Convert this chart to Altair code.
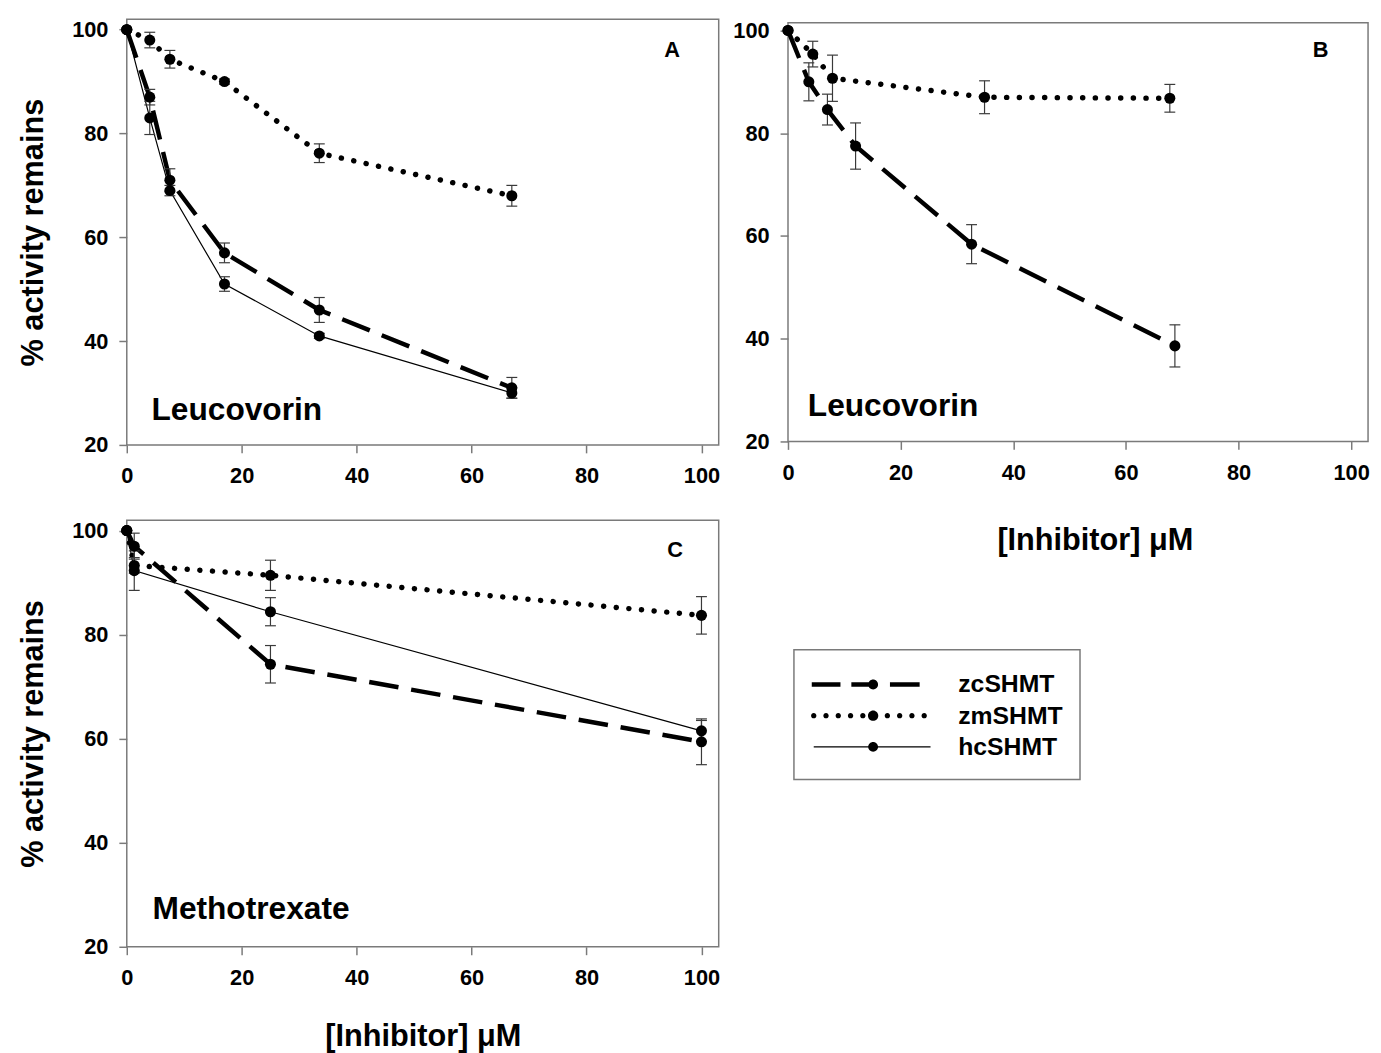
import altair as alt
import pandas as pd

series = ["zcSHMT", "zmSHMT", "hcSHMT"]

# Panel A (Leucovorin)
a_x = [0, 4, 7.5, 17, 33.5, 67]
a_zc = [100, 87, 71, 57, 46, 31]
a_zc_err = [0, 1.5, 2.2, 1.9, 2.4, 2.0]
a_zm = [100, 98, 94.3, 90, 76.2, 68]
a_zm_err = [0, 1.5, 1.7, 0.5, 1.8, 2.0]
a_hc = [100, 83, 69, 51, 41, 30]
a_hc_err = [0, 3.2, 1.0, 1.4, 0.5, 1.0]

# Panel B (Leucovorin)
b_zc_x = [0, 3.7, 7, 12, 32.6, 68.7]
b_zc = [100, 90, 84.6, 77.5, 58.4, 38.6]
b_zc_err = [0, 3.7, 3.0, 4.5, 3.8, 4.1]
b_zm_x = [0, 4.4, 7.9, 34.9, 67.8]
b_zm = [100, 95.4, 90.7, 87, 86.8]
b_zm_err = [0, 2.5, 4.5, 3.2, 2.7]

# Panel C (Methotrexate)
c_x = [0, 1.3, 25, 100]
c_zc = [100, 97, 74.3, 59.4]
c_zc_err = [0, 2.5, 3.6, 4.4]
c_zm = [100, 93.3, 91.4, 83.7]
c_zm_err = [0, 1.5, 2.9, 3.6]
c_hc = [100, 92.3, 84.4, 61.5]
c_hc_err = [0, 3.8, 2.7, 2.0]

x_ticks = [0, 20, 40, 60, 80, 100]
y_ticks = [20, 40, 60, 80, 100]
x_title = "[Inhibitor] μM"
y_title = "% activity remains"

FONT = "Liberation Sans"
FRAME = "#7a7a7a"
ERR = "#3a3a3a"

line_styles = {
    "zcSHMT": {"strokeWidth": 4.5, "strokeDash": [30, 13]},
    "zmSHMT": {"strokeWidth": 5.5, "strokeDash": [0.1, 12.7], "strokeCap": "round"},
    "hcSHMT": {"strokeWidth": 1.2},
}


def series_df(xs, ys, errs, name):
    df = pd.DataFrame({"x": xs, "y": ys, "err": errs})
    df["series"] = name
    df["lo"] = df["y"] - df["err"]
    df["hi"] = df["y"] + df["err"]
    return df


def text_layer(label, px, py, size, align):
    return alt.Chart(pd.DataFrame({"label": [label]})).mark_text(
        font=FONT, fontWeight="bold", fontSize=size, align=align,
        baseline="middle", color="black"
    ).encode(text="label:N", x=alt.value(px), y=alt.value(py))


def panel(dfs, width, height, ytop, show_xtitle, show_ytitle, xpad, xtitle_x,
          letter, letter_xy, drug, drug_xy):
    xscale = alt.Scale(domain=[0, 103], nice=False, zero=False)
    yscale = alt.Scale(domain=[20, ytop], nice=False, zero=False)
    xkw = dict(values=x_ticks, labelFlush=False, titlePadding=xpad)
    if show_xtitle:
        xkw["title"] = x_title
        if xtitle_x is not None:
            xkw["titleX"] = xtitle_x
    else:
        xkw["title"] = None
    xaxis = alt.Axis(**xkw)
    yaxis = alt.Axis(values=y_ticks, labelFlush=False,
                     title=y_title if show_ytitle else None, titlePadding=22)

    def X(f):
        return alt.X(f"{f}:Q", scale=xscale, axis=xaxis)

    def Y(f):
        return alt.Y(f"{f}:Q", scale=yscale, axis=yaxis)

    layers = []
    for df in dfs:
        name = df["series"].iloc[0]
        layers.append(
            alt.Chart(df).mark_line(color="black", **line_styles[name])
            .encode(x=X("x"), y=Y("y"))
        )
    allpts = pd.concat(dfs, ignore_index=True)
    err = allpts[allpts["err"] > 0]
    layers.append(alt.Chart(err).mark_rule(color=ERR, strokeWidth=1.2)
                  .encode(x=X("x"), y=Y("lo"), y2="hi:Q"))
    for f in ["lo", "hi"]:
        layers.append(alt.Chart(err).mark_tick(orient="horizontal", size=11, thickness=1.2,
                                               color=ERR, opacity=1)
                      .encode(x=X("x"), y=Y(f)))
    layers.append(alt.Chart(allpts).mark_point(filled=True, size=125, color="black",
                                               opacity=1, strokeWidth=0)
                  .encode(x=X("x"), y=Y("y")))
    layers.append(text_layer(letter, letter_xy[0], letter_xy[1], 22, "center"))
    layers.append(text_layer(drug, drug_xy[0], drug_xy[1], 32, "left"))
    return alt.layer(*layers).properties(width=width, height=height)


A = panel([series_df(a_x, a_zc, a_zc_err, "zcSHMT"),
           series_df(a_x, a_zm, a_zm_err, "zmSHMT"),
           series_df(a_x, a_hc, a_hc_err, "hcSHMT")],
          598, 430, 102, False, True, 30, None, "A", (551, 31), "Leucovorin", (25, 395))

B = panel([series_df(b_zc_x, b_zc, b_zc_err, "zcSHMT"),
           series_df(b_zm_x, b_zm, b_zm_err, "zmSHMT")],
          586, 423, 101.5, True, False, 43, 310, "B", (538, 28), "Leucovorin", (20, 387))

C = panel([series_df(c_x, c_zc, c_zc_err, "zcSHMT"),
           series_df(c_x, c_zm, c_zm_err, "zmSHMT"),
           series_df(c_x, c_hc, c_hc_err, "hcSHMT")],
          598, 431, 102, True, True, 34, None, "C", (554, 30), "Methotrexate", (26, 393))


# legend sample glyphs (custom symbol paths, unit = 60 px)
U = 60.0


def rect_path(x0, x1, h):
    return f"M{x0/U:.4f},{-h/2/U:.4f}H{x1/U:.4f}V{h/2/U:.4f}H{x0/U:.4f}Z"


def circle_path(cx, r):
    return (f"M{(cx + r)/U:.4f},0A{r/U:.4f} {r/U:.4f} 0 1 1 {(cx - r)/U:.4f},0"
            f"A{r/U:.4f} {r/U:.4f} 0 1 1 {(cx + r)/U:.4f},0Z")


zc_path = rect_path(-62, -33, 4.5) + rect_path(-22, 4, 4.5) + rect_path(17, 47, 4.5) + circle_path(0, 5)
zm_path = "".join(circle_path(-60 + 12.4 * k, 2.7) for k in range(10)) + circle_path(0, 5.2)
hc_path = rect_path(-60, 58, 1.3) + circle_path(0, 5)

legend_df = pd.DataFrame({"series": series})
ly = alt.Y("series:N", scale=alt.Scale(domain=series, range=[166, 229], padding=0), axis=None)

legend_box = alt.Chart(pd.DataFrame({"box": [0]})).mark_rect(
    fill="transparent", stroke=FRAME, strokeWidth=1.5
).encode(x=alt.value(6), x2=alt.value(295), y=alt.value(131), y2=alt.value(262))

legend_samples = alt.Chart(legend_df).mark_point(
    filled=True, size=U * U * 4, color="black", opacity=1, strokeWidth=0
).encode(
    x=alt.value(86), y=ly,
    shape=alt.Shape("series:N", scale=alt.Scale(domain=series, range=[zc_path, zm_path, hc_path]),
                    legend=None),
)

legend_text = alt.Chart(legend_df).mark_text(
    font=FONT, fontWeight="bold", fontSize=25, align="left", baseline="middle", color="black"
).encode(x=alt.value(172), y=ly, text="series:N")

L = alt.layer(legend_box, legend_samples, legend_text).properties(
    width=300, height=431, view=alt.ViewBackground(stroke="transparent")
)

chart = alt.concat(
    A, B, C, L, columns=2, spacing={"row": 76, "column": 70}, bounds="flush", center=True
).properties(
    padding={"left": 9, "top": 4, "right": 2, "bottom": 4}
).configure_view(
    stroke=FRAME, strokeWidth=1.5
).configure_axis(
    grid=False, domain=False, tickColor=FRAME, tickSize=8, tickWidth=1.5,
    labelFont=FONT, labelFontSize=22, labelFontWeight="bold", labelColor="black",
    labelPadding=11,
    titleFont=FONT, titleFontSize=31, titleFontWeight="bold", titleColor="black",
).configure_axisX(labelPadding=13)

chart.save("out.html", embed_options={"renderer": "svg", "actions": False})
